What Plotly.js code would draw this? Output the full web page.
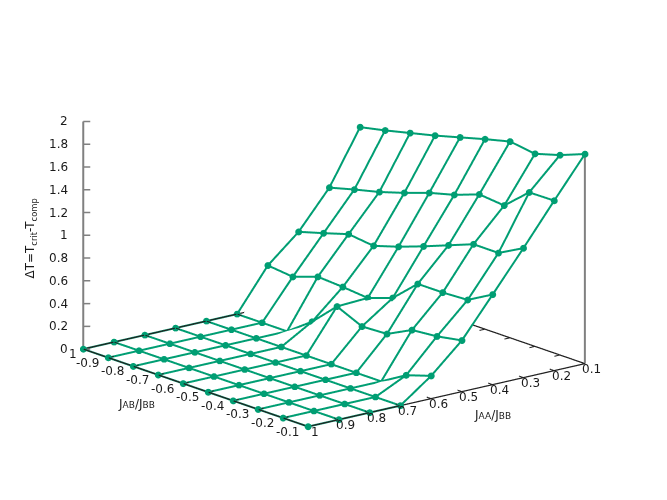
<!DOCTYPE html>
<html>
<head>
<meta charset="utf-8">
<script src="https://cdn.plot.ly/plotly-3.0.1.min.js"></script>
<style>html,body{margin:0;padding:0;background:#fff}#plot{width:667px;height:500px}</style>
</head>
<body>
<div id="plot"></div>
<script>
(function () {

	'use strict';

	// axes
	const jaa = [1, 0.9, 0.8, 0.7, 0.6, 0.5, 0.4, 0.3, 0.2, 0.1];
	const jab = [-1, -0.9, -0.8, -0.7, -0.6, -0.5, -0.4, -0.3, -0.2, -0.1];
	const zTicks = [0, 0.2, 0.4, 0.6, 0.8, 1, 1.2, 1.4, 1.6, 1.8, 2];

	// tick labels as they read in the picture
	const jaaLabels = ['1', '0.9', '0.8', '0.7', '0.6', '0.5', '0.4', '0.3', '0.2', '0.1'];
	const jabLabels = ['1', '-0.9', '-0.8', '-0.7', '-0.6', '-0.5', '-0.4', '-0.3', '-0.2', '-0.1'];
	const zLabels = ['0', '0.2', '0.4', '0.6', '0.8', '1', '1.2', '1.4', '1.6', '1.8', '2'];

	// deltaT, one row per JAA
	const dT10 = [0, 0, 0, 0, 0, 0, 0, 0, 0, 0];
	const dT09 = [0, 0, 0, 0, 0, 0, 0, 0, 0, 0];
	const dT08 = [0, 0, 0, 0, 0, 0, 0, 0, 0, 0];
	const dT07 = [0, 0, 0, 0, 0, 0, 0, 0, 0, 0];
	const dT06 = [0, 0, 0, 0, 0, 0, 0, 0, 0.13, 0.2];
	const dT05 = [0, 0, 0, 0.16, 0.37, 0.27, 0.28, 0.39, 0.41, 0.45];
	const dT04 = [0.366, 0.342, 0.418, 0.404, 0.383, 0.459, 0.658, 0.658, 0.669, 0.792];
	const dT03 = [0.6, 0.664, 0.731, 0.704, 0.772, 0.851, 0.936, 1.021, 1.02, 1.138];
	const dT02 = [0.927, 0.986, 1.04, 1.108, 1.184, 1.242, 1.322, 1.3, 1.491, 1.494];
	const dT01 = [1.397, 1.444, 1.497, 1.55, 1.61, 1.67, 1.725, 1.693, 1.757, 1.842];
	const dT = [dT10, dT09, dT08, dT07, dT06, dT05, dT04, dT03, dT02, dT01];

	// points that sit in a crease and lose their marker [row, col]
	const noMarker = ['5,2', '4,7'];

	const green = '#009e73';
	const xRange = [0.05, 1.05];
	const yRange = [-1.05, -0.05];
	const zRange = [-0.05, 2.05];

	// px per data unit in the picture, used for the view direction and offsets
	const pxXY = 397;
	const pxZ = 118.75;
	const view = [0.605, 0.745, 0.28];
	const eyeDist = 2;
	const zoom = 1.585;
	const look = { x: 0.0019, y: -0.0016, z: -0.031 };

	/**
	* Slide values along the line of sight: same place on screen, other depth
	* @param {Number} px - toward the viewer, negative is away
	*/
	const slideX = ( v, px ) => v + px * view[0] / pxXY;
	const slideY = ( v, px ) => v + px * view[1] / pxXY;
	const slideZ = ( v, px ) => v + px * view[2] / pxZ;

	/**
	* 3D polyline helper, px lifts it toward the viewer
	*/
	const line3d = ( x, y, z, color, width, px = 0 ) => ({
		type: 'scatter3d',
		mode: 'lines',
		x: x.map( v => slideX( v, px )),
		y: y.map( v => slideY( v, px )),
		z: z.map( v => slideZ( v, px )),
		line: { color, width },
		hoverinfo: 'skip',
		showlegend: false
	});

	const traces = [];

	// white sheet pushed back along the view, it hides what is behind the surface
	const back = -10;
	traces.push({
		type: 'surface',
		x: dT.map(( row, n ) => row.map(() => slideX( jaa[n], back ))),
		y: dT.map(( row ) => row.map(( v, m ) => slideY( jab[m], back ))),
		z: dT.map(( row ) => row.map(( v ) => slideZ( v, back ))),
		colorscale: [[0, '#ffffff'], [1, '#ffffff']],
		showscale: false,
		hoverinfo: 'skip',
		lighting: { ambient: 1, diffuse: 0, specular: 0, fresnel: 0, roughness: 1 }
	});

	// grid lines
	jaa.forEach(( a, n ) => {
		traces.push( line3d( jab.map(() => a ), jab, dT[n], green, 4 ));
	});
	jab.forEach(( b, m ) => {
		traces.push( line3d( jaa, jaa.map(() => b ), dT.map( row => row[m] ), green, 4 ));
	});

	// base border and z axes
	const x0 = jaa[9], x1 = jaa[0], y0 = jab[0], y1 = jab[9];
	traces.push( line3d( [x1, x1, x0, x0, x1], [y0, y1, y1, y0, y0], [0, 0, 0, 0, 0], '#222222', 2.5, 0.6 ));
	traces.push( line3d( [x1, x1], [y0, y0], [0, 2], '#808080', 4 ));
	traces.push( line3d( [x0, x0], [y1, y1], [0, dT01[9]], '#808080', 4 ));

	// ticks
	const tick = ( px, dir ) => [ px * dir[0] / pxXY, px * dir[1] / pxXY ];
	const right = [-0.776, 0.63];
	zTicks.forEach(( t ) => {
		const d = tick( 7, right );
		traces.push( line3d( [x1, x1 + d[0]], [y0, y0 + d[1]], [t, t], '#808080', 3 ));
	});
	jaa.forEach(( a ) => {
		traces.push( line3d( [a, a], [y1, y1 - 0.018], [0, 0], '#222222', 2, 0.6 ));
		traces.push( line3d( [a, a], [y0, y0 + 0.018], [0, 0], '#222222', 2, 0.6 ));
	});
	jab.forEach(( b ) => {
		traces.push( line3d( [x0, x0 + 0.018], [b, b], [0, 0], '#222222', 2, 0.6 ));
		traces.push( line3d( [x1, x1 - 0.018], [b, b], [0, 0], '#222222', 2, 0.6 ));
	});

	// markers
	const mx = [], my = [], mz = [];
	jaa.forEach(( a, n ) => {
		jab.forEach(( b, m ) => {
			if( noMarker.indexOf( n + ',' + m ) === -1 ){
				mx.push( slideX( a, 1.2 )); my.push( slideY( b, 1.2 )); mz.push( slideZ( dT[n][m], 1.2 ));
			}
		});
	});
	traces.push({
		type: 'scatter3d',
		mode: 'markers',
		x: mx, y: my, z: mz,
		marker: { color: green, size: 4, symbol: 'circle', line: { width: 0 } },
		hoverinfo: 'skip',
		showlegend: false
	});

	/**
	* Labels are scene annotations, pinned to the data and nudged in px
	*/
	const font = { family: 'DejaVu Sans', size: 12, color: '#1a1a1a' };
	const label = ( x, y, z, text, xshift, yshift, xanchor, extra ) => Object.assign({
		x, y, z, text, xshift, yshift,
		xanchor: xanchor || 'center',
		yanchor: 'middle',
		showarrow: false,
		font
	}, extra || {});

	const annotations = [];
	zTicks.forEach(( t, i ) => annotations.push( label( x1, y0, t, zLabels[i], -13, 0, 'right' )));
	jab.forEach(( b, i ) => annotations.push( label( x1, b, 0, jabLabels[i], i === 0 ? -4 : -7, -5, 'right' )));
	jaa.forEach(( a, i ) => annotations.push( label( a, y1, 0, jaaLabels[i], 7, -5.5 )));

	const small = ( s ) => '<span style="font-size:9px">' + s + '</span>';
	annotations.push( label( 0.55, -1, 0, 'J' + small('AB') + '/J' + small('BB'), -85.6, -86.5 ));
	annotations.push( label( 0.1, -0.55, 0, 'J' + small('AA') + '/J' + small('BB'), 19.5, -90 ));
	annotations.push( label( x1, y0, 1, '\u0394T=T<sub>crit</sub>-T<sub>comp</sub>', -52, -3, 'center', { textangle: -90 } ));

	const hidden = ( range ) => ({
		visible: false,
		range,
		autorange: false,
		showspikes: false
	});

	const layout = {
		width: 667,
		height: 500,
		margin: { l: 0, r: 0, t: 0, b: 0 },
		paper_bgcolor: '#ffffff',
		showlegend: false,
		scene: {
			domain: { x: [0, 1], y: [0, 1] },
			bgcolor: '#ffffff',
			aspectmode: 'manual',
			aspectratio: {
				x: zoom * ( xRange[1] - xRange[0] ) * pxXY / 397,
				y: zoom * ( yRange[1] - yRange[0] ) * pxXY / 397,
				z: zoom * ( zRange[1] - zRange[0] ) * pxZ / 397
			},
			camera: {
				projection: { type: 'orthographic' },
				up: { x: 0, y: 0, z: 1 },
				center: look,
				eye: { x: view[0] * eyeDist + look.x, y: view[1] * eyeDist + look.y, z: view[2] * eyeDist + look.z }
			},
			xaxis: hidden( xRange ),
			yaxis: hidden( yRange ),
			zaxis: hidden( zRange ),
			annotations
		}
	};

	Plotly.newPlot( 'plot', traces, layout, { displayModeBar: false, responsive: false } );

})();
</script>
</body>
</html>
